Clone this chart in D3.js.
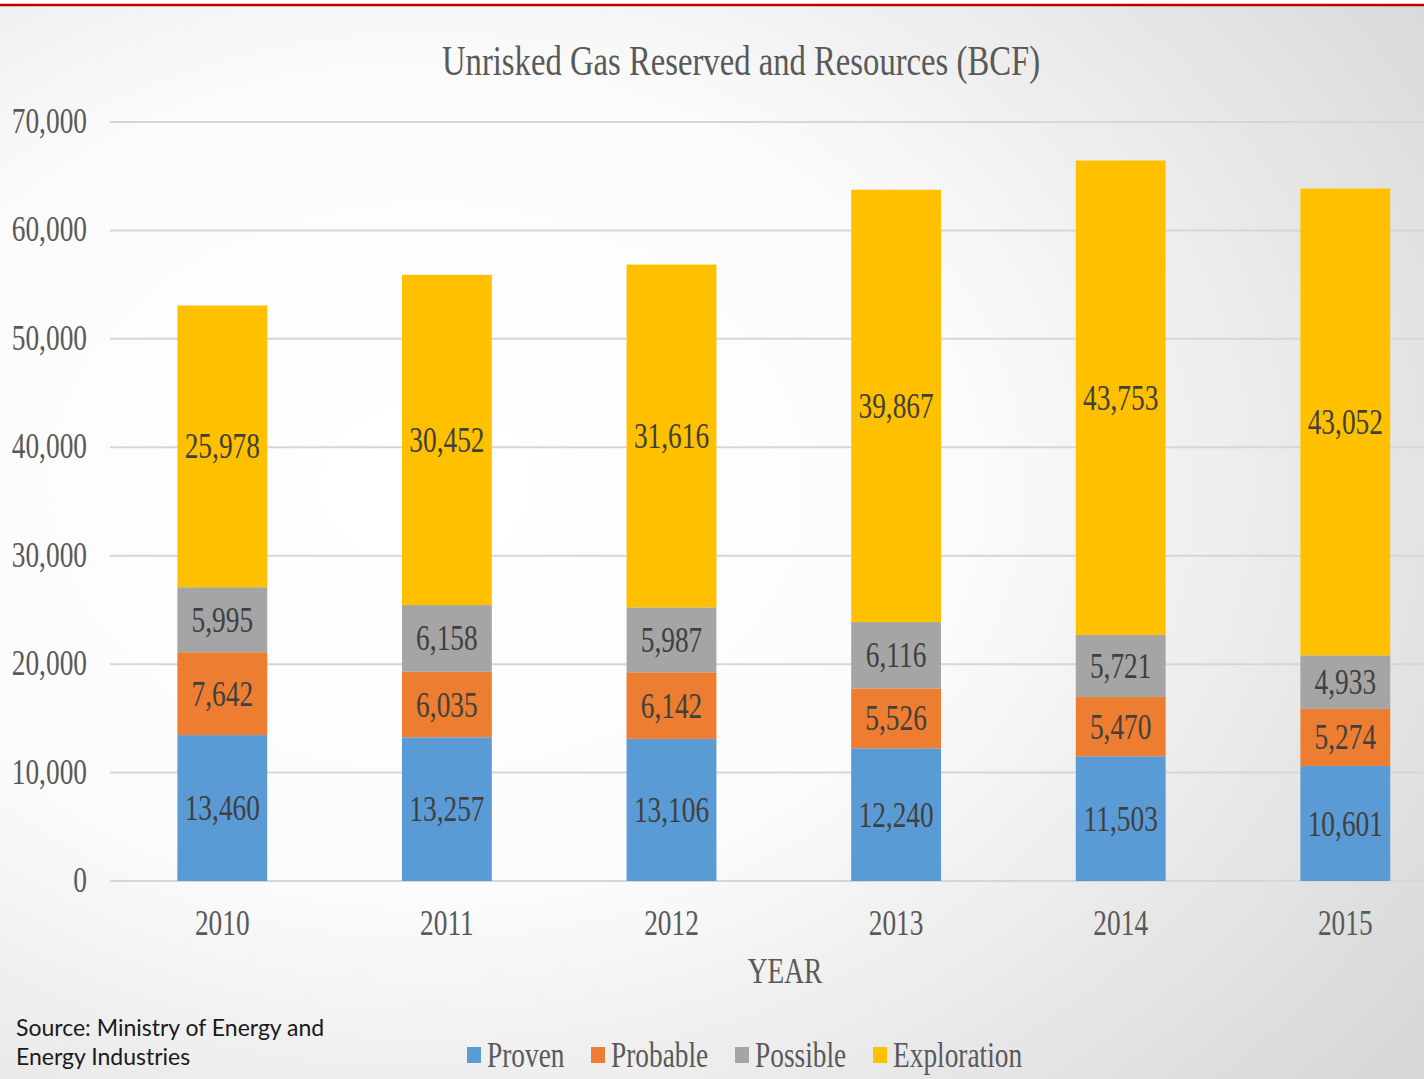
<!DOCTYPE html>
<html>
<head>
<meta charset="utf-8">
<script src="https://cdn.jsdelivr.net/npm/d3@7"></script>
<style>
  html, body { margin: 0; padding: 0; background: #fff; }
  svg { display: block; }
</style>
</head>
<body>
<svg id="chart" width="1424" height="1079"></svg>
<script>
const years = ['2010', '2011', '2012', '2013', '2014', '2015']
const seriesNames = ['Proven', 'Probable', 'Possible', 'Exploration']
const proven = [13460, 13257, 13106, 12240, 11503, 10601]
const probable = [7642, 6035, 6142, 5526, 5470, 5274]
const possible = [5995, 6158, 5987, 6116, 5721, 4933]
const exploration = [25978, 30452, 31616, 39867, 43753, 43052]
const yTicks = [0, 10000, 20000, 30000, 40000, 50000, 60000, 70000]
const colors = ['#5b9bd5', '#ed7d31', '#a5a5a5', '#ffc000']

const width = 1424
const height = 1079
const margin = { top: 122, left: 110, bottom: 198 }
const squeeze = 0.76
const serif = "'Liberation Serif', 'Times New Roman', serif"

const svg = d3.select('#chart')

// background
const defs = svg.append('defs')
const grad = defs.append('radialGradient')
  .attr('id', 'bg')
  .attr('cx', '0.3').attr('cy', '0.45').attr('r', '0.85')
grad.append('stop').attr('offset', '0%').attr('stop-color', '#ffffff')
grad.append('stop').attr('offset', '45%').attr('stop-color', '#fbfbfb')
grad.append('stop').attr('offset', '100%').attr('stop-color', '#d8d8d8')

svg.append('rect')
  .attr('width', width).attr('height', height)
  .attr('fill', 'url(#bg)')
svg.append('rect')
  .attr('width', width).attr('height', 4)
  .attr('fill', '#ffffff')
svg.append('line')
  .attr('x1', 0).attr('x2', width)
  .attr('y1', 5).attr('y2', 5)
  .attr('stroke', '#c00000')
  .attr('stroke-width', 2.5)

// data table
const rows = years.map((y, i) => ({
  year: y,
  Proven: proven[i],
  Probable: probable[i],
  Possible: possible[i],
  Exploration: exploration[i]
}))
const stacked = d3.stack().keys(seriesNames)(rows)

const xScale = d3.scaleBand()
  .domain(years)
  .range([margin.left, margin.left + 6 * 224.6])
  .paddingInner(0.6)
  .paddingOuter(0.3)
const yScale = d3.scaleLinear()
  .domain([0, 70000])
  .range([height - margin.bottom, margin.top])

const fmt = d3.format(',')

// squeezed serif text helper
function sText(parent, x, y, str, size, anchor, fill) {
  return parent.append('text')
    .attr('transform', `translate(${x},${y}) scale(${squeeze},1)`)
    .attr('text-anchor', anchor)
    .attr('font-family', serif)
    .attr('font-size', size)
    .attr('fill', fill)
    .text(str)
}

// gridlines
svg.append('g').selectAll('line').data(yTicks)
  .enter().append('line')
  .attr('x1', margin.left).attr('x2', width)
  .attr('y1', d => yScale(d)).attr('y2', d => yScale(d))
  .attr('stroke', '#d6d6d6')
  .attr('stroke-width', 2)

// y labels
const yAxisG = svg.append('g')
yTicks.forEach(t => sText(yAxisG, 87, yScale(t) + 11, fmt(t), 36, 'end', '#595959'))

// bars
const barsG = svg.append('g')
stacked.forEach((layer, li) => {
  barsG.append('g').selectAll('rect').data(layer)
    .enter().append('rect')
    .attr('x', d => xScale(d.data.year))
    .attr('y', d => yScale(d[1]))
    .attr('width', xScale.bandwidth())
    .attr('height', d => yScale(d[0]) - yScale(d[1]))
    .attr('fill', colors[li])
})

// value labels
const labelsG = svg.append('g')
stacked.forEach(layer => {
  layer.forEach(d => {
    const cx = xScale(d.data.year) + xScale.bandwidth() / 2
    const cy = (yScale(d[0]) + yScale(d[1])) / 2
    sText(labelsG, cx, cy + 12, fmt(d[1] - d[0]), 36, 'middle', '#404040')
  })
})

// x labels
const xAxisG = svg.append('g')
years.forEach(y => sText(xAxisG, xScale(y) + xScale.bandwidth() / 2, 935, y, 36, 'middle', '#595959'))
sText(xAxisG, 785, 983, 'YEAR', 36, 'middle', '#595959')

// title
sText(svg, 741, 75, 'Unrisked Gas Reserved and Resources (BCF)', 43, 'middle', '#595959')

// legend
const legendX = [467, 591, 735, 873]
const legendG = svg.append('g')
seriesNames.forEach((name, i) => {
  legendG.append('rect')
    .attr('x', legendX[i]).attr('y', 1047)
    .attr('width', 14).attr('height', 16)
    .attr('fill', colors[i])
  sText(legendG, legendX[i] + 20, 1067, name, 36, 'start', '#595959')
})

// source note
svg.append('text')
  .attr('x', 16).attr('y', 1036)
  .attr('font-family', "Lato, 'Open Sans', sans-serif")
  .attr('font-size', 23)
  .attr('fill', '#1a1a1a')
  .text('Source: Ministry of Energy and')
svg.append('text')
  .attr('x', 16).attr('y', 1065)
  .attr('font-family', "Lato, 'Open Sans', sans-serif")
  .attr('font-size', 23)
  .attr('fill', '#1a1a1a')
  .text('Energy Industries')
</script>
</body>
</html>
